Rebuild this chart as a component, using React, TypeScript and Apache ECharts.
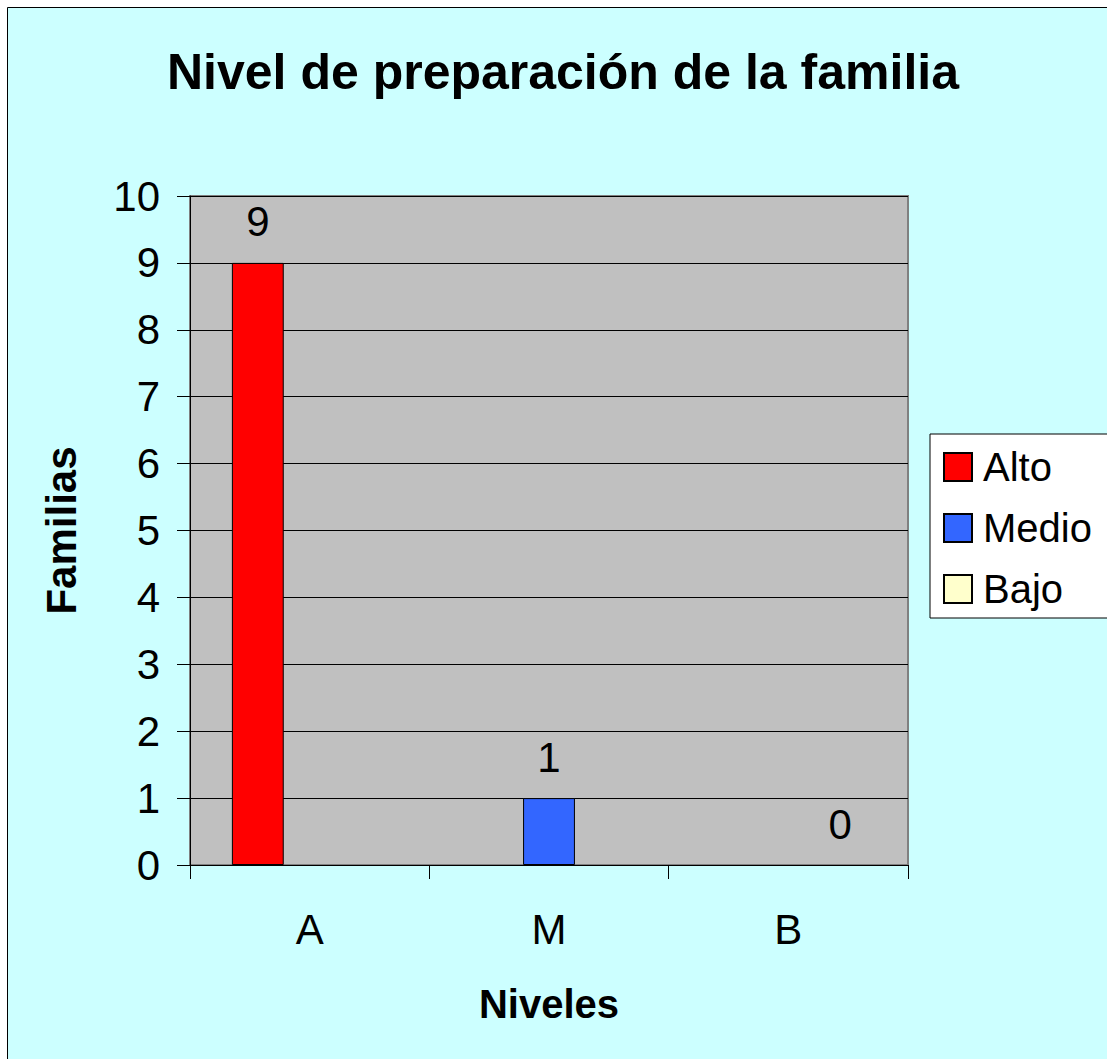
import React, { useEffect, useRef } from "react";
import * as echarts from "echarts";

const categories = ["A", "M", "B"];
const seriesNames = ["Alto", "Medio", "Bajo"];
const altoValues = [9, "-", "-"];
const medioValues = ["-", 1, "-"];
const bajoValues = ["-", "-", 0];
const seriesColors = ["#FF0000", "#3366FF", "#FFFFCC"];
const titleText = "Nivel de preparación de la familia";
const yAxisName = "Familias";
const xAxisName = "Niveles";

const FONT = "'Liberation Sans', Arial, sans-serif";

export default function App() {
  const ref = useRef<HTMLDivElement>(null);
  useEffect(() => {
    if (!ref.current) return;
    const chart = echarts.init(ref.current, undefined, { renderer: "svg" });
    const values = [altoValues, medioValues, bajoValues];
    chart.setOption({
      animation: false,
      backgroundColor: "#FFFFFF",
      textStyle: { fontFamily: FONT, color: "#000" },
      graphic: [
        {
          type: "rect",
          z: -10,
          silent: true,
          shape: { x: 7.5, y: 7.5, width: 1300, height: 1300 },
          style: { fill: "#CCFFFF", stroke: "#000", lineWidth: 1 },
        },
      ],
      title: {
        text: titleText,
        left: 167,
        top: 47,
        padding: 0,
        textStyle: { fontFamily: FONT, fontSize: 50, fontWeight: "bold", color: "#000", lineHeight: 50 },
      },
      legend: {
        orient: "vertical",
        left: 930,
        top: 434,
        padding: [13, 40, 9, 13],
        backgroundColor: "#FFFFFF",
        borderColor: "#000",
        borderWidth: 1,
        borderRadius: 0,
        itemWidth: 28,
        itemHeight: 28,
        itemGap: 21,
        icon: "rect",
        data: seriesNames,
        textStyle: { fontFamily: FONT, fontSize: 40, color: "#000", lineHeight: 40, padding: [0, 0, 0, 6] },
      },
      grid: {
        left: 190,
        top: 196,
        width: 718,
        height: 669,
        show: true,
        backgroundColor: "#C0C0C0",
        borderColor: "#808080",
        borderWidth: 2,
        containLabel: false,
      },
      xAxis: {
        type: "category",
        data: categories,
        boundaryGap: true,
        name: xAxisName,
        nameLocation: "middle",
        nameGap: 119,
        nameTextStyle: { fontFamily: FONT, fontSize: 40, fontWeight: "bold", color: "#000", lineHeight: 40 },
        axisLine: { show: true, lineStyle: { color: "#000", width: 1 } },
        axisTick: { show: true, length: 14, alignWithLabel: false, lineStyle: { color: "#000" } },
        axisLabel: { fontFamily: FONT, fontSize: 42, color: "#000", margin: 43, lineHeight: 42 },
        splitLine: { show: false },
      },
      yAxis: {
        type: "value",
        min: 0,
        max: 10,
        interval: 1,
        name: yAxisName,
        nameLocation: "middle",
        nameRotate: 90,
        nameGap: 108,
        nameTextStyle: { fontFamily: FONT, fontSize: 42, fontWeight: "bold", color: "#000", lineHeight: 42 },
        axisLine: { show: true, lineStyle: { color: "#000", width: 1 } },
        axisTick: { show: true, length: 13, lineStyle: { color: "#000" } },
        axisLabel: { fontFamily: FONT, fontSize: 42, color: "#000", margin: 30 },
        splitLine: { show: true, lineStyle: { color: "#000", width: 1 } },
      },
      series: seriesNames.map((name, i) => ({
        name,
        type: "bar",
        data: values[i].map((v) =>
          v === 0 ? { value: v, itemStyle: { borderWidth: 0, color: "rgba(0,0,0,0)" } } : v
        ),
        barGap: "0%",
        barCategoryGap: "35%",
        itemStyle: { color: seriesColors[i], borderColor: "#000", borderWidth: 1 },
        label: {
          show: true,
          position: "top",
          distance: 20,
          fontFamily: FONT,
          fontSize: 42,
          color: "#000",
        },
      })),
    });
    return () => chart.dispose();
  }, []);
  return (
    <div
      ref={ref}
      style={{ position: "fixed", left: 0, top: 0, width: 1107, height: 1059 }}
    />
  );
}
